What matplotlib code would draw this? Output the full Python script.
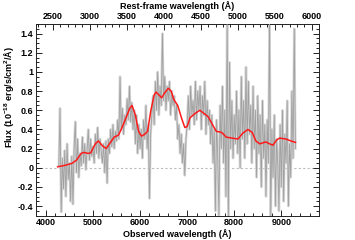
import matplotlib
matplotlib.use("Agg")
import matplotlib.pyplot as plt
import numpy as np
from matplotlib.ticker import MultipleLocator

plt.rcParams["font.family"] = ["Liberation Sans", "DejaVu Sans"]
plt.rcParams["font.weight"] = "bold"
plt.rcParams["font.size"] = 6.5
plt.rcParams["mathtext.fontset"] = "custom"
plt.rcParams["mathtext.bf"] = "Liberation Sans:bold"
plt.rcParams["mathtext.rm"] = "Liberation Sans:bold"

# observed spectrum, sampled every 25 A from 4275 to 9300 A
WAVE_START = 4275
WAVE_STEP = 25
flux = [
    0.02, 0.62, -0.46, 0.10, -0.22, 0.18, -0.30, 0.25, -0.12, 0.05,
    -0.35, 0.12, -0.38, 0.22, 0.48, -0.05, 0.30, -0.10, 0.15, 0.02,
    0.32, 0.05, 0.25, -0.02, 0.18, 0.40, 0.08, 0.30, 0.12, 0.22,
    0.05, 0.35, 0.15, 0.42, 0.10, 0.30, 0.18, 0.05, 0.25, -0.05,
    0.28, -0.16, 0.30, 0.15, 0.40, 0.22, 0.45, 0.20, 0.38, 0.28,
    0.50, 0.30, 0.95, 0.40, 0.62, 0.35, 0.55, 0.45, 0.72, 0.50,
    0.85, 0.48, 0.68, 0.40, 0.60, 0.25, 0.55, 0.15, 0.45, 0.20,
    0.40, 0.10, 0.50, 0.30, 0.65, 0.20, 0.45, -0.32, 0.35, 0.55,
    0.75, 0.45, 0.90, 0.60, 1.00, 0.55, 0.85, 0.65, 1.40, 0.70,
    0.95, 0.60, 0.85, 0.70, 0.90, 0.55, 0.80, 0.65, 0.75, 0.50,
    0.65, 0.30, 0.45, 0.15, 0.35, 0.05, 0.25, -0.08, 0.30, 0.45,
    0.75, 0.40, 0.85, 0.55, 0.70, 0.45, 0.90, 0.50, 0.80, 0.60,
    0.85, 0.40, 0.75, 0.55, 0.90, 0.35, 0.70, 0.45, 0.60, 0.25,
    0.55, 0.05, 0.40, -0.45, 0.50, 0.10, -0.50, 0.65, 0.20, 0.85,
    0.05, 0.60, -0.30, 1.55, -0.55, 1.10, 0.20, 0.70, 0.10, 0.55,
    0.25, 0.80, 0.15, 0.60, 0.00, 0.95, 0.30, 0.70, 0.10, 1.05,
    0.25, 0.90, 0.35, 0.65, 0.05, 0.85, 0.20, 0.60, -0.10, 0.75,
    0.15, 0.55, -0.20, 0.70, 0.10, 0.45, -0.30, 0.50, 0.05, 1.60,
    -0.55, 0.40, -0.10, 0.55, -0.40, 0.30, 0.05, -0.45, 0.45, -0.20,
    0.60, -0.35, 0.35, 0.05, 0.70, -0.40, 0.25, -0.10, 0.80, 0.10,
    1.45, 0.20,
]
wave = WAVE_START + WAVE_STEP * np.arange(len(flux))

# smoothed model curve
model_wave = [
    4250, 4400, 4550, 4650, 4750, 4800, 4900, 4950, 5050, 5115,
    5200, 5280, 5350, 5450, 5540, 5600, 5700, 5780, 5830, 5900,
    5970, 6030, 6100, 6160, 6230, 6300, 6340, 6400, 6460, 6520,
    6600, 6660, 6720, 6800, 6880, 6950, 7000, 7060, 7150, 7270,
    7350, 7450, 7550, 7620, 7730, 7830, 7950, 8080, 8180, 8290,
    8380, 8460, 8540, 8610, 8670, 8750, 8822, 8900, 8963, 9100,
    9200, 9302,
]
model_flux = [
    0.01, 0.025, 0.045, 0.08, 0.15, 0.16, 0.15, 0.155, 0.25, 0.28,
    0.23, 0.20, 0.25, 0.32, 0.34, 0.40, 0.52, 0.62, 0.65, 0.55,
    0.38, 0.33, 0.35, 0.38, 0.60, 0.76, 0.79, 0.76, 0.73, 0.78,
    0.83, 0.80, 0.71, 0.65, 0.52, 0.42, 0.43, 0.52, 0.56, 0.60,
    0.57, 0.53, 0.44, 0.38, 0.37, 0.32, 0.31, 0.30, 0.36, 0.40,
    0.37, 0.28, 0.25, 0.26, 0.27, 0.25, 0.235, 0.29, 0.31, 0.30,
    0.28, 0.265,
]

OBS_LIM = (3790, 9790)
REST_LIM = (2273, 6090)

fig = plt.figure(figsize=(3.55, 2.40), dpi=100)
ax = fig.add_axes([36 / 355, 1 - 215.7 / 240, 282.5 / 355, 191.7 / 240])

ax.axhline(0, color="#bbbbbb", lw=0.8, ls=(0, (2, 2)), zorder=1)
ax.plot(wave, flux, color="#d6d6d6", lw=1.8, zorder=2)
ax.plot(wave, flux, color="#a0a0a0", lw=0.6, zorder=3)
ax.plot(model_wave, model_flux, color="#ff1a1a", lw=1.1, zorder=4)

ax.set_xlim(*OBS_LIM)
ax.set_ylim(-0.5, 1.5)
ax.xaxis.set_major_locator(MultipleLocator(1000))
ax.xaxis.set_minor_locator(MultipleLocator(200))
ax.yaxis.set_minor_locator(MultipleLocator(0.05))
ax.set_yticks([-0.4, -0.2, 0, 0.2, 0.4, 0.6, 0.8, 1.0, 1.2, 1.4])
ax.set_yticklabels(["-0.4", "-0.2", "0", "0.2", "0.4", "0.6", "0.8", "1", "1.2", "1.4"])
ax.tick_params(which="both", direction="in", right=True, top=False, colors="#222222",
               labelcolor="black", width=0.7)
ax.tick_params(which="major", length=4, pad=2)
ax.tick_params(which="minor", length=2)
for s in ax.spines.values():
    s.set_color("#222222")
    s.set_linewidth(0.7)

ax.set_xlabel("Observed wavelength (Å)", fontweight="bold", labelpad=1)
ax.set_ylabel(r"Flux (10$^{\mathbf{-18}}$ erg/s/cm$^{\mathbf{2}}$/Å)", fontweight="bold")
ax.yaxis.set_label_coords(-0.072, 0.62)

top = ax.twiny()
top.set_xlim(*REST_LIM)
top.xaxis.set_major_locator(MultipleLocator(500))
top.xaxis.set_minor_locator(MultipleLocator(100))
top.tick_params(which="both", direction="in", colors="#222222", labelcolor="black", width=0.7)
top.tick_params(which="major", length=4, pad=2)
top.tick_params(which="minor", length=2)
top.set_xlabel("Rest-frame wavelength (Å)", fontweight="bold", labelpad=2)
for s in top.spines.values():
    s.set_visible(False)

fig.savefig("out.png", dpi=100)
